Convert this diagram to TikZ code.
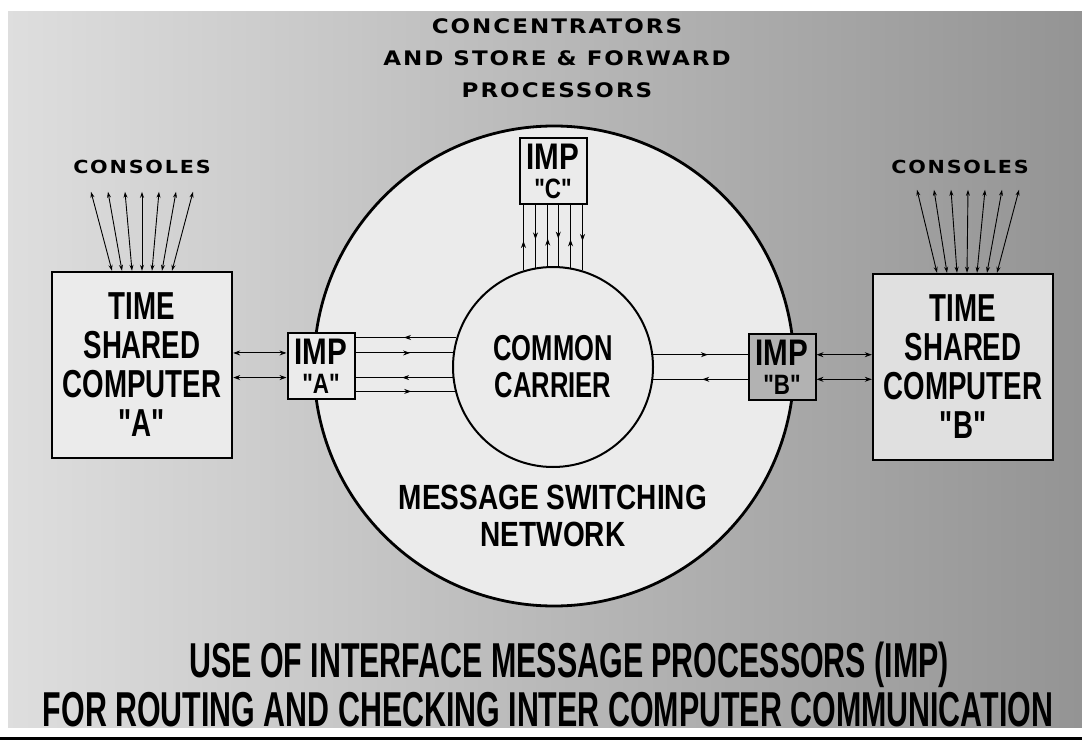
\documentclass[tikz,border=0pt]{standalone}
\usepackage{fontspec}
\usetikzlibrary{positioning,calc,arrows.meta,decorations.markings}
\newfontfamily\boxsans[FakeStretch=0.71]{Liberation Sans}
\newfontfamily\netsans[FakeStretch=0.8]{Liberation Sans}
\newfontfamily\titlesans[FakeStretch=0.62]{Liberation Sans}
\newfontfamily\widesans[FakeStretch=1.15,LetterSpace=10]{DejaVu Sans}
\definecolor{paper}{gray}{0.92}
\definecolor{paperB}{gray}{0.88}
\definecolor{impshade}{gray}{0.70}
\definecolor{bgleft}{gray}{0.87}
\definecolor{bgright}{gray}{0.58}
\tikzset{
  compbox/.style={draw,line width=2.4pt,fill=paper,minimum width=180pt,minimum height=186pt,
    align=center,inner sep=0pt,font=\boxsans\bfseries\fontsize{39}{39}\selectfont},
  impbox/.style={draw,line width=2pt,fill=paper,minimum width=67pt,minimum height=66pt,
    align=center,inner sep=0pt,font=\netsans\bfseries\fontsize{37}{29}\selectfont},
  ring/.style={circle,draw,line width=2.8pt,fill=paper,minimum size=480pt,inner sep=0pt},
  carrier/.style={circle,draw,line width=2pt,fill=paper,minimum size=200pt,inner sep=0pt,
    align=center,font=\boxsans\bfseries\fontsize{36}{37}\selectfont},
  capline/.style={align=center,font=\widesans\bfseries\fontsize{20}{32}\selectfont},
  conslabel/.style={font=\widesans\bfseries\fontsize{18}{18}\selectfont},
  netlabel/.style={align=center,font=\netsans\bfseries\fontsize{35}{37}\selectfont},
  titleline/.style={anchor=base,font=\titlesans\bfseries\fontsize{49}{49}\selectfont},
  wire/.style={line width=0.9pt},
  biwire/.style={wire,{Stealth[length=7pt,width=5pt]}-{Stealth[length=7pt,width=5pt]}},
  conswire/.style={line width=0.9pt,{Stealth[length=6pt,width=4pt]}-{Stealth[length=6pt,width=4pt]}},
  midwire/.style={wire,postaction={decorate},
    decoration={markings,mark=at position #1 with {\arrow{Stealth[length=7pt,width=5pt]}}}},
  midwire/.default=0.5
}
\begin{document}
\begin{tikzpicture}[x=1pt,y=-1pt]
  \useasboundingbox (0,0) rectangle (1082,749);
  \fill[left color=bgleft,right color=bgright] (8,12) rectangle (1082,727);
  \draw[line width=3pt] (0,738) -- (1082,738);

  \node[capline] (conc) at (557,58) {CONCENTRATORS\\AND STORE \& FORWARD\\PROCESSORS};

  \node[ring] (net) at (554,366) {};
  \node[carrier] (cc) at (553,367) {COMMON\\CARRIER};
  \node[netlabel] (netname) at (553,516) {MESSAGE SWITCHING\\NETWORK};

  \node[compbox] (compA) at (142,365) {TIME\\SHARED\\COMPUTER\\"A"};
  \node[compbox,fill=paperB] (compB) at (963,367) {TIME\\SHARED\\COMPUTER\\"B"};
  \node[conslabel,above=94pt of compA] (consA) {CONSOLES};
  \node[conslabel,above=96pt of compB,xshift=-3pt] (consB) {CONSOLES};

  \foreach \i in {0,...,6}
    \draw[conswire] ($(compA.north)+(-30+10*\i,0)$) -- ($(consA.south)+(-51+17*\i,15)$);
  \foreach \i in {0,...,6}
    \draw[conswire] ($(compB.north)+(-26+10*\i,0)$) -- ($(consB.south)+(-43+17*\i,13)$);

  \node[impbox] (impA) at (321,366) {IMP\\{\fontsize{28}{29}\selectfont"A"}};
  \node[impbox,fill=impshade] (impB) at (782,367) {IMP\\{\fontsize{28}{29}\selectfont"B"}};
  \node[impbox] (impC) at (553,171) {IMP\\{\fontsize{28}{29}\selectfont"C"}};

  % computers to their IMPs
  \draw[biwire] (compA.east |- cc.172) -- (impA.west |- cc.172);
  \draw[biwire] (compA.east |- cc.186) -- (impA.west |- cc.186);
  \draw[biwire] (impB.east |- cc.7) -- (compB.west |- cc.7);
  \draw[biwire] (impB.east |- cc.353) -- (compB.west |- cc.353);

  % IMPs to the carrier
  \foreach \ang in {163,186}
    \draw[midwire=0.52] (cc.\ang) -- (cc.\ang -| impA.east);
  \foreach \ang in {172,194}
    \draw[midwire=0.56] (cc.\ang -| impA.east) -- (cc.\ang);
  \draw[midwire=0.58] (cc.7) -- (cc.7 -| impB.west);
  \draw[midwire=0.48] (cc.353 -| impB.west) -- (cc.353);
  \foreach \ang in {107,93,80}
    \draw[midwire=0.45] (cc.\ang) -- (cc.\ang |- impC.south);
  \foreach \ang in {100,87,73}
    \draw[midwire=0.55] (cc.\ang |- impC.south) -- (cc.\ang);

  \node[titleline] (title1) at (569,677) {USE OF INTERFACE MESSAGE PROCESSORS (IMP)};
  \node[titleline] (title2) at (548,726) {FOR ROUTING AND CHECKING INTER COMPUTER COMMUNICATION};
\end{tikzpicture}
\end{document}
